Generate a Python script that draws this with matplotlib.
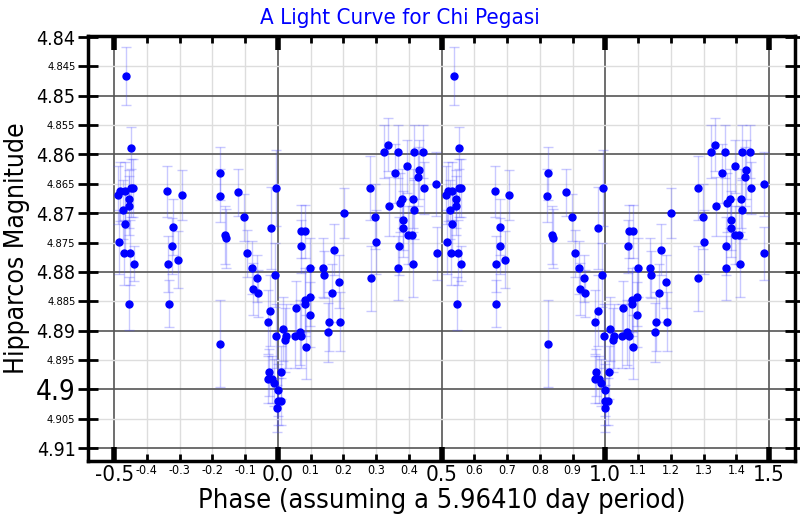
import numpy as np
import matplotlib
matplotlib.use("Agg")
from matplotlib import pyplot as plt
from matplotlib.ticker import FixedLocator, FixedFormatter

# phase of each observation (one period, -0.5 .. 0.5), Hipparcos magnitude and its error
phase = [-0.488, -0.484, -0.481, -0.474, -0.471, -0.468, -0.468, -0.463, -0.456, -0.455,
         -0.454, -0.451, -0.448, -0.448, -0.442, -0.440,
         -0.338, -0.335, -0.333, -0.323, -0.321, -0.306, -0.293,
         -0.177, -0.176, -0.176, -0.162, -0.159, -0.121, -0.103, -0.093, -0.079, -0.077,
         -0.064, -0.062, -0.031, -0.031, -0.028, -0.023, -0.021, -0.018, -0.013, -0.009,
         -0.006, -0.005, -0.002, -0.001, 0.000, 0.008, 0.011, 0.015, 0.023, 0.026,
         0.052, 0.054, 0.067, 0.070, 0.071, 0.071, 0.082, 0.082, 0.084, 0.085, 0.097,
         0.098, 0.099, 0.137, 0.140, 0.153, 0.155, 0.165, 0.171, 0.186, 0.189, 0.202,
         0.282, 0.284, 0.298, 0.300, 0.323, 0.336, 0.338, 0.357, 0.366, 0.368, 0.369,
         0.372, 0.380, 0.383, 0.383, 0.395, 0.397, 0.409, 0.412, 0.414, 0.417, 0.417,
         0.428, 0.430, 0.443, 0.446, 0.484, 0.486]
mag = [4.8669, 4.8749, 4.8663, 4.8694, 4.8767, 4.8663, 4.8718, 4.8466, 4.8687, 4.8676,
       4.8854, 4.8767, 4.8589, 4.8657, 4.8657, 4.8786,
       4.8663, 4.8786, 4.8854, 4.8756, 4.8724, 4.8779, 4.8669,
       4.8670, 4.8632, 4.8922, 4.8737, 4.8743, 4.8664, 4.8707, 4.8768, 4.8793, 4.8829,
       4.8811, 4.8836, 4.8885, 4.8983, 4.8971, 4.8866, 4.8725, 4.8983, 4.8989, 4.8805,
       4.8657, 4.8909, 4.9032, 4.9001, 4.9020, 4.9020, 4.8971, 4.8897, 4.8916, 4.8909,
       4.8909, 4.8861, 4.8903, 4.8756, 4.8731, 4.8909, 4.8854, 4.8848, 4.8731, 4.8928, 4.8842,
       4.8873, 4.8793, 4.8793, 4.8805, 4.8903, 4.8885, 4.8836, 4.8762, 4.8817, 4.8885, 4.8700,
       4.8657, 4.8811, 4.8706, 4.8749, 4.8595, 4.8583, 4.8688, 4.8632, 4.8595, 4.8793, 4.8756,
       4.8682, 4.8675, 4.8712, 4.8725, 4.8620, 4.8737, 4.8737, 4.8787, 4.8675, 4.8595, 4.8694,
       4.8638, 4.8626, 4.8595, 4.8657, 4.8650, 4.8768]
err = [0.0050, 0.0055, 0.0050, 0.0050, 0.0055, 0.0050, 0.0050, 0.0049, 0.0050, 0.0050,
       0.0045, 0.0055, 0.0035, 0.0050, 0.0050, 0.0030,
       0.0043, 0.0048, 0.0040, 0.0048, 0.0048, 0.0049, 0.0043,
       0.0045, 0.0045, 0.0074, 0.0050, 0.0050, 0.0040, 0.0040, 0.0040, 0.0045, 0.0045,
       0.0040, 0.0040, 0.0055, 0.0040, 0.0040, 0.0060, 0.0070, 0.0040, 0.0040, 0.0055,
       0.0065, 0.0055, 0.0040, 0.0045, 0.0040, 0.0040, 0.0045, 0.0055, 0.0055, 0.0055,
       0.0055, 0.0045, 0.0055, 0.0045, 0.0045, 0.0055, 0.0055, 0.0055, 0.0045, 0.0055, 0.0050,
       0.0055, 0.0050, 0.0050, 0.0040, 0.0050, 0.0050, 0.0050, 0.0043, 0.0045, 0.0050, 0.0043,
       0.0055, 0.0055, 0.0055, 0.0055, 0.0045, 0.0045, 0.0050, 0.0050, 0.0045, 0.0055, 0.0050,
       0.0050, 0.0050, 0.0050, 0.0050, 0.0045, 0.0050, 0.0050, 0.0055, 0.0050, 0.0045, 0.0050,
       0.0050, 0.0050, 0.0045, 0.0045, 0.0055, 0.0045]

x_major = [-0.5, 0.0, 0.5, 1.0, 1.5]
x_major_labels = ["-0.5", "0.0", "0.5", "1.0", "1.5"]
x_minor = [-0.4, -0.3, -0.2, -0.1, 0.1, 0.2, 0.3, 0.4, 0.6, 0.7, 0.8, 0.9,
           1.1, 1.2, 1.3, 1.4]
x_minor_labels = ["-0.4", "-0.3", "-0.2", "-0.1", "0.1", "0.2", "0.3", "0.4", "0.6", "0.7",
                  "0.8", "0.9", "1.1", "1.2", "1.3", "1.4"]
y_ticks = [round(4.84 + 0.005 * i, 3) for i in range(15)]
y_labels = ["%g" % t for t in y_ticks]

plt.rcParams["font.family"] = ["DejaVu Sans"]
plt.rcParams["font.stretch"] = "condensed"


def main():
    fig = plt.figure(figsize=(8, 5.2), dpi=100)
    ax = fig.add_axes([0.11, 0.1135, 0.884, 0.8175])

    ph = np.array(phase)
    for shift in (0, 1):
        ax.errorbar(ph + shift, mag, yerr=err, fmt="o", color="blue", ms=5,
                    ecolor=(0.3, 0.3, 1.0, 0.3), elinewidth=1, capsize=3.5, capthick=1,
                    zorder=3)

    ax.set_xlim(-0.58, 1.58)
    ax.set_ylim(4.9122, 4.8398)

    # grid: dark at 0.5 / 0.01, light at 0.1 / 0.005
    for t in x_major:
        ax.axvline(t, color="#555555", lw=1.2, zorder=1)
    for t in x_minor:
        ax.axvline(t, color="#dddddd", lw=1, zorder=1)
    for t in y_ticks:
        major = abs(t * 100 - round(t * 100)) < 1e-6
        ax.axhline(t, color="#555555" if major else "#dddddd", lw=1.2 if major else 1, zorder=1)

    ax.xaxis.set_major_locator(FixedLocator(x_major))
    ax.xaxis.set_major_formatter(FixedFormatter(x_major_labels))
    ax.xaxis.set_minor_locator(FixedLocator(x_minor))
    ax.xaxis.set_minor_formatter(FixedFormatter(x_minor_labels))
    ax.tick_params(axis="x", which="major", direction="in", length=10, width=4,
                   top=True, labelsize=16, pad=3)
    ax.tick_params(axis="x", which="minor", direction="in", length=5, width=2,
                   top=True, labelsize=9, pad=2)

    ax.yaxis.set_major_locator(FixedLocator(y_ticks))
    ax.yaxis.set_major_formatter(FixedFormatter(y_labels))
    ax.tick_params(axis="y", which="major", direction="inout", length=14, width=2,
                   right=True, labelsize=14, pad=2)
    for t, lab in zip(y_ticks, ax.get_yticklabels()):
        if abs(t * 100 - round(t * 100)) > 1e-6:
            lab.set_fontsize(8)
        elif abs(t - 4.9) < 1e-6:
            lab.set_fontsize(20)

    for s in ax.spines.values():
        s.set_linewidth(2.5)
        s.set_zorder(5)

    fig.text(0.5, 0.965, "A Light Curve for Chi Pegasi", color="blue", fontsize=16,
             ha="center", va="center")
    ax.set_xlabel("Phase (assuming a 5.96410 day period)", fontsize=19.5, labelpad=2)
    ax.set_ylabel("Hipparcos Magnitude", fontsize=19, labelpad=4)

    fig.savefig("out.png", dpi=100)


if __name__ == "__main__":
    main()
